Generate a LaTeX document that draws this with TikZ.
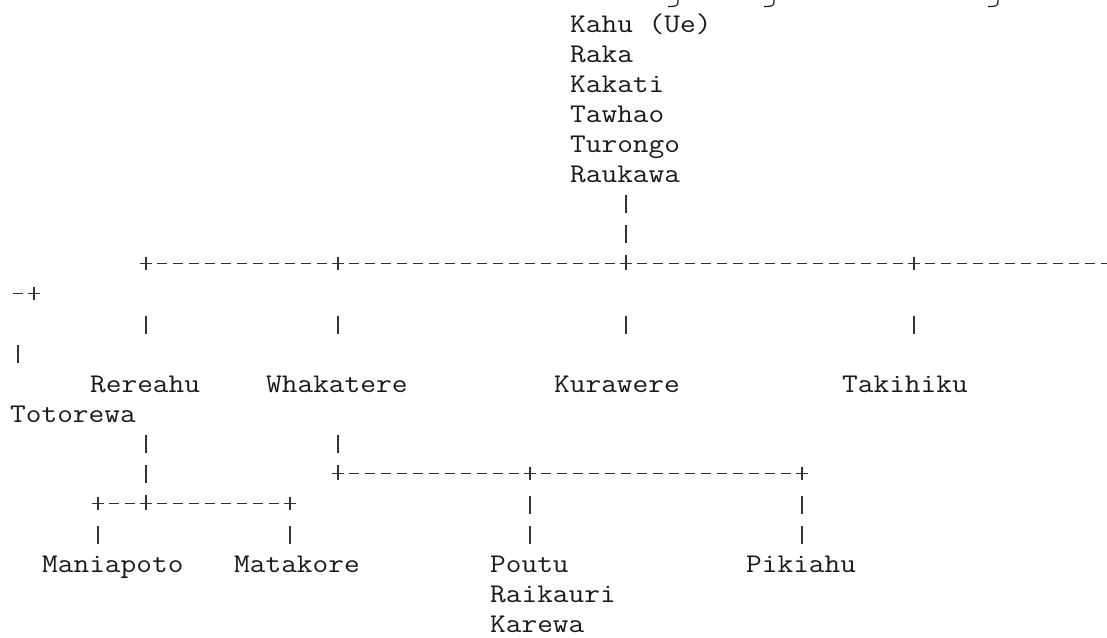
\documentclass[tikz,border=0pt]{standalone}
\usepackage{graphicx}
\newcommand\genfont{\fontfamily{lmtt}\fontseries{m}\fontsize{27pt}{30pt}\selectfont}
\newcommand\stretchtxt[1]{\scalebox{1.12875}[1]{#1}}
\begin{document}
\begin{tikzpicture}[x=1pt,y=-1pt,
  person/.style={font=\genfont, anchor=base west, inner sep=0pt, text=black!90},
  linkline/.style={line width=1.2pt, draw=black!80},
  plusmark/.style={inner sep=0pt, minimum size=12pt,
    append after command={(\tikzlastnode.north) edge[linkline] (\tikzlastnode.south)
                          (\tikzlastnode.west) edge[linkline] (\tikzlastnode.east)}},
  hdash/.style={linkline, dash pattern=on 10pt off 6pt, dash phase=11pt},
  hdashz/.style={linkline, dash pattern=on 10pt off 6pt, dash phase=0pt},
  vbar/.style={linkline, dash pattern=on 18pt off 12pt, dash phase=0pt},
  barone/.style={linkline, dash pattern=on 18pt off 200pt, dash phase=0pt},
  downone/.style={linkline, dash pattern=on 18pt off 200pt, dash phase=172pt},
  downtwo/.style={linkline, dash pattern=on 18pt off 200pt, dash phase=202pt},
  downthree/.style={linkline, dash pattern=on 18pt off 12pt on 18pt off 200pt, dash phase=232pt},
  hook/.style={line width=1.2pt, draw=black!90}
]
\fill[white] (0,0) rectangle (1107,637);
\useasboundingbox (0,0) rectangle (1107,637);

% descenders of the cut-off line above
\draw[hook] (678,0) -- (678,2) .. controls (678,6) and (675,6.5) .. (672,6.5) -- (668,6.5);
\draw[hook] (774,0) -- (774,2) .. controls (774,6) and (771,6.5) .. (768,6.5) -- (764,6.5);
\draw[hook] (998,0) -- (998,2) .. controls (998,6) and (995,6.5) .. (992,6.5) -- (988,6.5);

% names
\node[person] (kahu)     at (570,32)  {\stretchtxt{Kahu (Ue)}};
\node[person] (raka)     at (570,62)  {\stretchtxt{Raka}};
\node[person] (kakati)   at (570,92)  {\stretchtxt{Kakati}};
\node[person] (tawhao)   at (570,122) {\stretchtxt{Tawhao}};
\node[person] (turongo)  at (570,152) {\stretchtxt{Turongo}};
\node[person] (raukawa)  at (570,182) {\stretchtxt{Raukawa}};
\node[person] (rereahu)  at (90,392)  {\stretchtxt{Rereahu}};
\node[person] (whakatere) at (266,392) {\stretchtxt{Whakatere}};
\node[person] (kurawere) at (554,392) {\stretchtxt{Kurawere}};
\node[person] (takihiku) at (842,392) {\stretchtxt{Takihiku}};
\node[person] (totorewa) at (10,422)  {\stretchtxt{Totorewa}};
\node[person] (maniapoto) at (42,572) {\stretchtxt{Maniapoto}};
\node[person] (matakore) at (234,572) {\stretchtxt{Matakore}};
\node[person] (poutu)    at (490,572) {\stretchtxt{Poutu}};
\node[person] (pikiahu)  at (746,572) {\stretchtxt{Pikiahu}};
\node[person] (raikauri) at (490,602) {\stretchtxt{Raikauri}};
\node[person] (karewa)   at (490,632) {\stretchtxt{Karewa}};

% junction marks (+)
\node[plusmark] (p8a) at (146,263.3) {};
\node[plusmark] (p8b) at (338,263.3) {};
\node[plusmark] (p8c) at (626,263.3) {};
\node[plusmark] (p8d) at (914,263.3) {};
\node[plusmark] (p9)  at (34,293.3) {};
\node[plusmark] (p15a) at (338,473.3) {};
\node[plusmark] (p15b) at (530,473.3) {};
\node[plusmark] (p15c) at (802,473.3) {};
\node[plusmark] (p16a) at (98,503.3) {};
\node[plusmark] (p16b) at (146,503.3) {};
\node[plusmark] (p16c) at (290,503.3) {};
\coordinate (d9) at (13,293.3);
\coordinate (edge8) at (1107,263.3);
\coordinate (w11) at (18,345.3);

% Raukawa down to the main bar
\draw[vbar] ([yshift=-13.3pt]raukawa.base -| p8c) -- (p8c.north);
\draw[hdash] (p8a.east) -- (p8b.west);
\draw[hdash] (p8b.east) -- (p8c.west);
\draw[hdash] (p8c.east) -- (p8d.west);
\draw[hdash] (p8d.east) -- (edge8);
\draw[hdashz] (d9) -- (p9.west);
\draw[downone] (p8a.south) -- (p8a |- rereahu.north);
\draw[downone] (p8b.south) -- (p8b |- whakatere.north);
\draw[downone] (p8c.south) -- (p8c |- kurawere.north);
\draw[downone] (p8d.south) -- (p8d |- takihiku.north);
\draw[barone] (w11) -- (w11 |- totorewa.north);

% Rereahu branch
\draw[vbar] ([yshift=-43.3pt]rereahu.base -| p16b) -- (p16b.north);
\draw[hdash] (p16a.east) -- (p16b.west);
\draw[hdash] (p16b.east) -- (p16c.west);
\draw[downtwo] (p16a.south) -- (p16a |- maniapoto.north);
\draw[downtwo] (p16c.south) -- (p16c |- matakore.north);

% Whakatere branch
\draw[vbar] ([yshift=-43.3pt]whakatere.base -| p15a) -- (p15a.north);
\draw[hdash] (p15a.east) -- (p15b.west);
\draw[hdash] (p15b.east) -- (p15c.west);
\draw[downthree] (p15b.south) -- (p15b |- poutu.north);
\draw[downthree] (p15c.south) -- (p15c |- pikiahu.north);
\end{tikzpicture}
\end{document}
